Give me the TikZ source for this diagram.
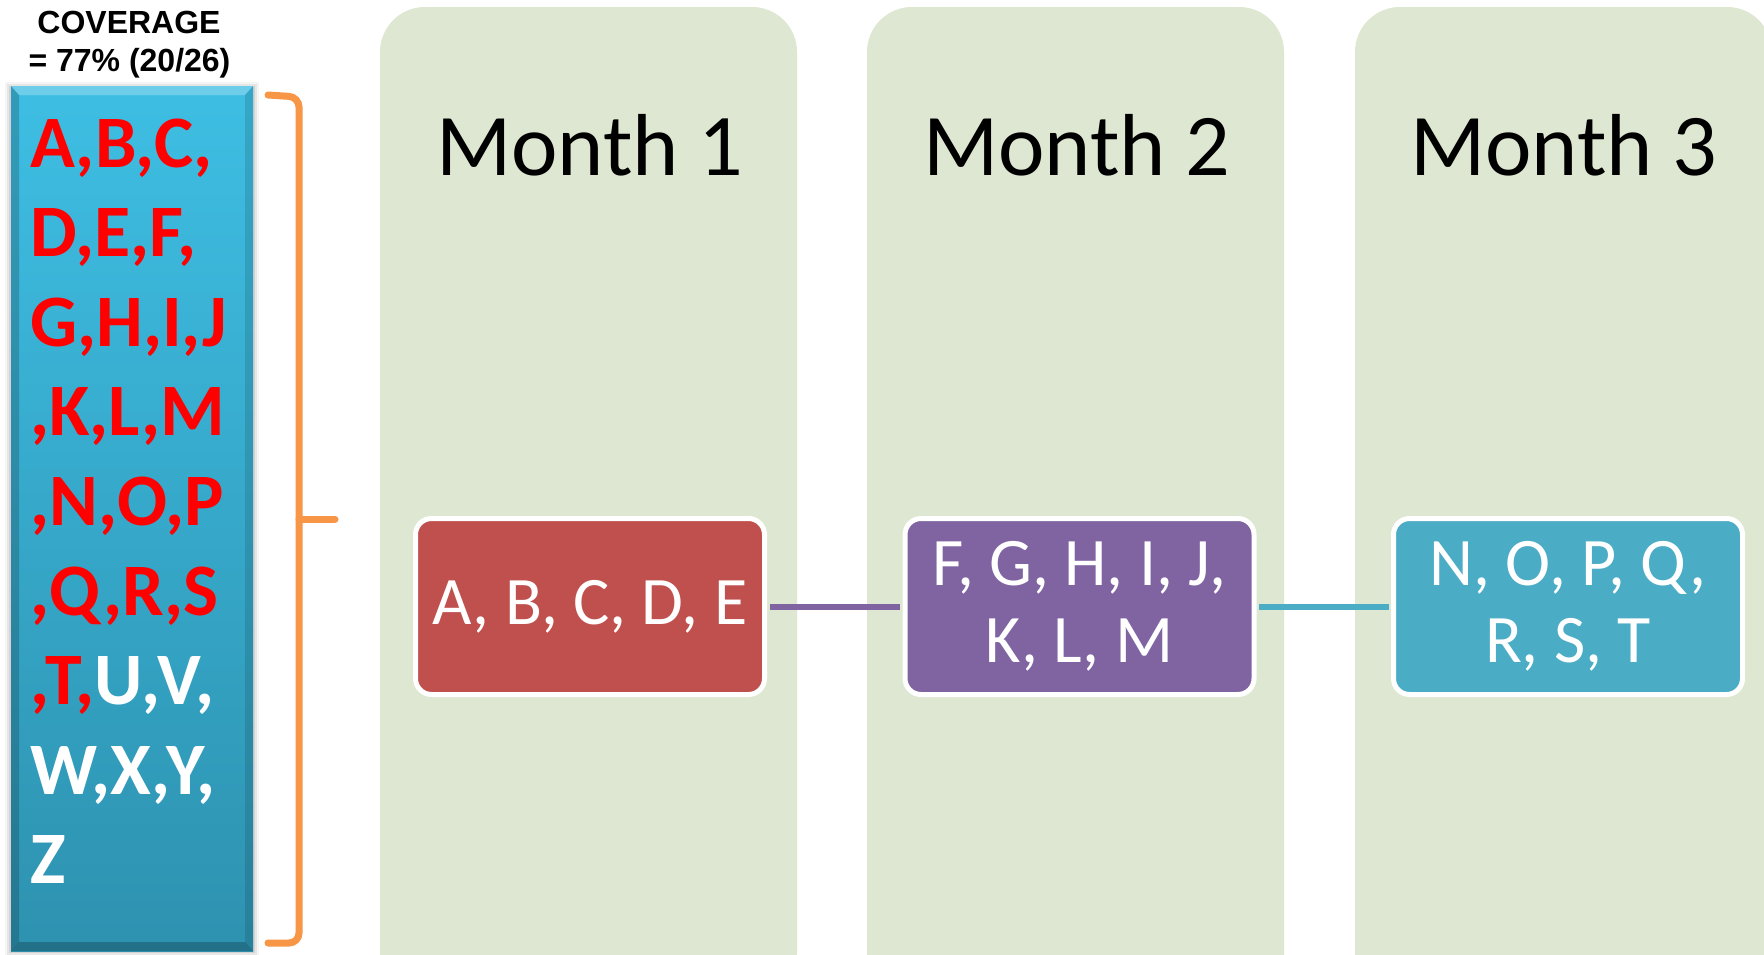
\documentclass[tikz,border=0pt]{standalone}
\usepackage{fontspec}
\setmainfont{Carlito}
\newfontfamily\arialfont{Liberation Sans}
\definecolor{panelc}{RGB}{222,231,209}
\definecolor{redc}{RGB}{192,80,77}
\definecolor{purplec}{RGB}{128,100,162}
\definecolor{cyanc}{RGB}{75,172,198}
\definecolor{bracketc}{RGB}{247,150,70}
\definecolor{coltop}{RGB}{62,190,227}
\definecolor{colbot}{RGB}{46,146,176}
\definecolor{txtred}{RGB}{255,0,0}
\begin{document}
\begin{tikzpicture}[x=1pt,y=-1pt,
  panel/.style={fill=panelc, rounded corners=45pt},
  monthtitle/.style={anchor=base, inner sep=0pt, font=\fontsize{88}{100}\selectfont, text=black},
  databox/.style={rectangle, draw=white, line width=5pt, rounded corners=16pt,
    minimum width=349pt, minimum height=176pt, inner sep=0pt, text=white,
    align=center, font=\fontsize{68}{77}\selectfont},
  colline/.style={anchor=base west, inner sep=0pt, text=white,
    font=\bfseries\fontsize{74}{80}\selectfont},
  covtext/.style={anchor=base, inner sep=0pt, font=\arialfont\bfseries\fontsize{32}{36}\selectfont},
  conn/.style={line width=6pt, shorten <=2.5pt, shorten >=2.5pt}
]
\useasboundingbox (0,0) rectangle (1764,954);
\fill[white] (0,0) rectangle (1764,954);

% month panels
\fill[panel] (380,1010) rectangle (797,7);
\fill[panel] (867,1010) rectangle (1284,7);
\fill[panel] (1355,1010) rectangle (1772,7);

\node[monthtitle] (m1) at (590,175) {Month 1};
\node[monthtitle] (m2) at (1077,175) {Month 2};
\node[monthtitle] (m3) at (1564,175) {Month 3};

% boxes
\node[databox, fill=redc] (b1) at (590,606.5) {A, B, C, D, E};
\node[databox, fill=purplec] (b2) at (1079.5,606.5) {F, G, H, I, J,\\K, L, M};
\node[databox, fill=cyanc] (b3) at (1568,606.5) {N, O, P, Q,\\R, S, T};

\draw[conn, draw=purplec] (b1.east) -- (b2.west);
\draw[conn, draw=cyanc] (b2.east) -- (b3.west);

% coverage title
\node[covtext] (cov1) at (129,33) {COVERAGE};
\node[covtext] (cov2) at (129.5,71) {= 77\% (20/26)};

% left column with shadow and bevel
\foreach \s/\o in {6/0.04,4/0.06,2/0.08}{
  \fill[black, opacity=\o] (11-\s,86-\s+2) rectangle (253+\s,951+\s);
}
\shade[top color=coltop, bottom color=colbot] (11,86) rectangle (253,951);
\fill[white, opacity=0.25] (11,86) -- (253,86) -- (245,95) -- (19,95) -- cycle;
\fill[black, opacity=0.18] (11,86) -- (19,95) -- (19,942) -- (11,951) -- cycle;
\fill[black, opacity=0.12] (253,86) -- (245,95) -- (245,942) -- (253,951) -- cycle;
\fill[black, opacity=0.22] (11,951) -- (19,942) -- (245,942) -- (253,951) -- cycle;

\node[colline] (l1) at (30,167) {\textcolor{txtred}{A,B,C,}};
\node[colline] (l2) at (30,256.6) {\textcolor{txtred}{D,E,F,}};
\node[colline] (l3) at (30,346.2) {\textcolor{txtred}{G,H,I,J}};
\node[colline] (l4) at (30,435.8) {\textcolor{txtred}{,K,L,M}};
\node[colline] (l5) at (30,525.4) {\textcolor{txtred}{,N,O,P}};
\node[colline] (l6) at (30,615) {\textcolor{txtred}{,Q,R,S}};
\node[colline] (l7) at (30,704.6) {\textcolor{txtred}{,T,}U,V,};
\node[colline] (l8) at (30,794.2) {W,X,Y,};
\node[colline] (l9) at (30,883.8) {Z};

% bracket
\draw[bracketc, line width=7pt, rounded corners=10pt, line cap=round]
  (268,95) -- (299,97) -- (299,943) -- (268,943);
\draw[bracketc, line width=7pt, line cap=round] (299,519) -- (335,519);
\end{tikzpicture}
\end{document}
